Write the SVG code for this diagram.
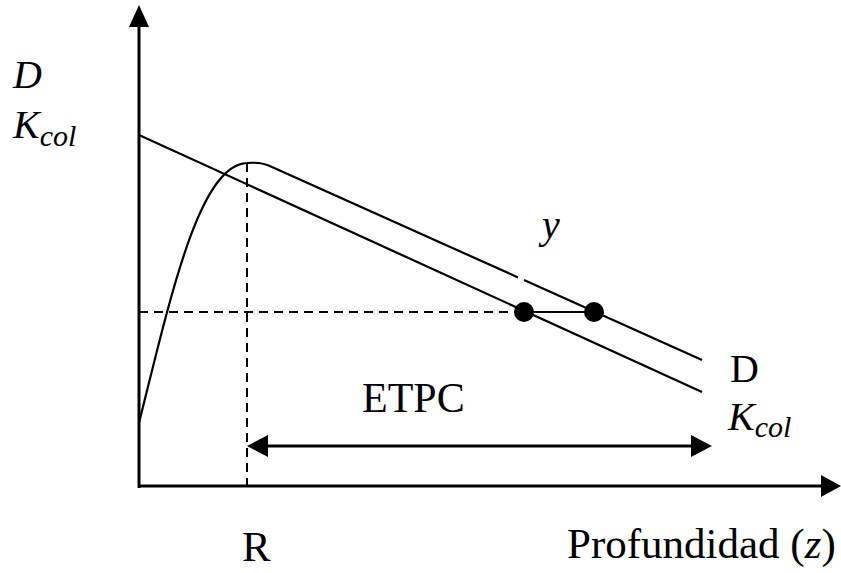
<svg xmlns="http://www.w3.org/2000/svg" width="841" height="573" viewBox="0 0 841 573">
<style>
.ax{stroke:#000;stroke-width:3;fill:none}
.ln{stroke:#000;stroke-width:2.2;fill:none}
.dash{stroke:#000;stroke-width:2;fill:none;stroke-dasharray:9 6}
.hd{fill:#000}
text{font-family:"Liberation Serif","Times New Roman",serif;fill:#000}
.it{font-style:italic}
</style>
<rect width="841" height="573" fill="#fff"/>
<g id="axes">
<line class="ax" x1="139" y1="488" x2="139" y2="22"/>
<polygon class="hd" points="139,5 129,27 149,27"/>
<line class="ax" x1="138" y1="486" x2="824" y2="486"/>
<polygon class="hd" points="841,486 821,475 821,497"/>
</g>
<g id="guides">
<line class="dash" x1="247" y1="163" x2="247" y2="488"/>
<line class="dash" x1="139" y1="312" x2="520" y2="312"/>
</g>
<g id="curve-kcol">
<line class="ln" x1="139" y1="135" x2="702" y2="392"/>
</g>
<g id="curve-d">
<path class="ln" d="M139,423 C172,290 200,165 247,163 C258,162 264,163 272,167 L518,277.4"/>
<line class="ln" x1="524" y1="280.1" x2="702" y2="360"/>
</g>
<g id="y-segment">
<line class="ln" x1="524" y1="312" x2="594" y2="312"/>
<circle class="hd" cx="524" cy="312" r="10"/>
<circle class="hd" cx="594" cy="312" r="10"/>
</g>
<g id="etpc-arrow">
<line class="ax" x1="262" y1="446" x2="698" y2="446"/>
<polygon class="hd" points="247,446 268,435 268,457"/>
<polygon class="hd" points="712,446 691,435 691,457"/>
</g>
<g id="labels">
<text class="it" x="13" y="88" font-size="40">D</text>
<text class="it" x="13" y="138" font-size="40">K<tspan font-size="30" dy="8">col</tspan></text>
<text class="it" x="542" y="238" font-size="40">y</text>
<text x="730" y="382" font-size="40">D</text>
<text class="it" x="728" y="430" font-size="40">K<tspan font-size="30" dy="7">col</tspan></text>
<text x="362" y="412" font-size="42">ETPC</text>
<text x="242" y="561" font-size="43">R</text>
<text x="567" y="558" font-size="43">Profundidad (<tspan class="it">z</tspan>)</text>
</g>
</svg>
